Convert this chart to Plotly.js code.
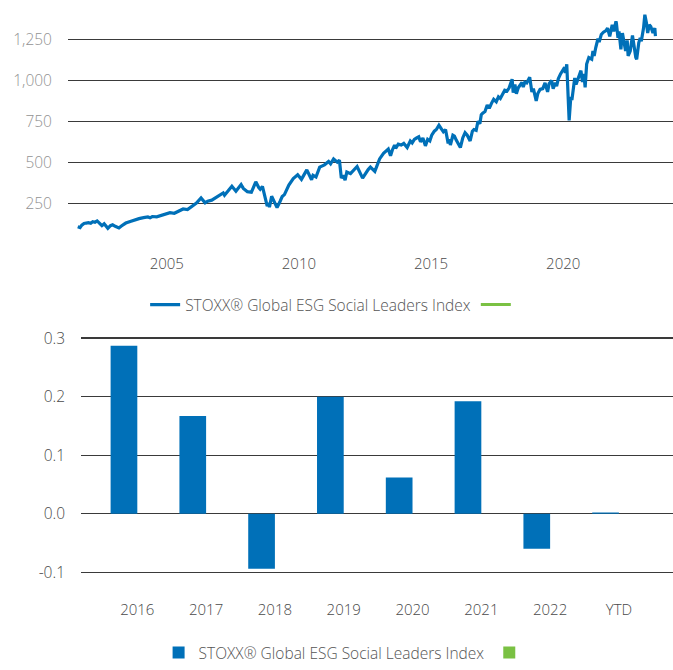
<!DOCTYPE html>
<html>
<head>
<meta charset="utf-8">
<script src="https://cdn.plot.ly/plotly-3.0.1.min.js"></script>
<style>
html,body{margin:0;padding:0;background:#fff;}
#chart{width:673px;height:670px;}
</style>
</head>
<body>
<div id="chart"></div>
<script>
// ---- Index level series ----
const lineDates = [
"2001-08-20","2001-09-21","2001-10-15","2001-11-15","2001-12-15","2002-01-15","2002-02-15","2002-03-15","2002-04-15","2002-05-15",
"2002-06-15","2002-07-20","2002-08-20","2002-09-15","2002-10-10","2002-11-15","2002-12-15","2003-01-20","2003-03-12","2003-04-15",
"2003-05-15","2003-06-15","2003-08-15","2003-10-15","2003-12-15","2004-02-15","2004-04-15","2004-05-15","2004-06-15","2004-08-15",
"2004-10-15","2004-12-15","2005-02-15","2005-04-15","2005-06-15","2005-08-15","2005-10-15","2005-12-15","2006-02-15","2006-04-20",
"2006-06-15","2006-07-20","2006-09-15","2006-11-15","2007-01-15","2007-02-20","2007-03-10","2007-05-20","2007-06-20","2007-08-15",
"2007-09-15","2007-10-25","2007-11-25","2008-01-20","2008-03-15","2008-05-15","2008-06-25","2008-07-15","2008-08-15","2008-09-20",
"2008-10-20","2008-11-10","2008-11-20","2008-12-20","2009-01-20","2009-03-05","2009-04-15","2009-05-15","2009-06-15","2009-07-15",
"2009-08-15","2009-10-15","2009-11-15","2009-12-15","2010-02-05","2010-04-20","2010-06-25","2010-07-15","2010-08-25","2010-10-15",
"2010-12-20","2011-02-15","2011-03-15","2011-04-25","2011-06-15","2011-07-15","2011-08-10","2011-09-05","2011-10-01","2011-10-25",
"2011-12-15","2012-02-15","2012-03-15","2012-05-30","2012-07-20","2012-08-15","2012-09-15","2012-11-15","2013-01-20","2013-03-15",
"2013-05-20","2013-06-20","2013-07-15","2013-08-15","2013-08-30","2013-10-05","2013-11-15","2013-12-20","2014-02-05","2014-03-20",
"2014-04-15","2014-05-15","2014-06-15","2014-07-15","2014-08-08","2014-09-10","2014-10-15","2014-11-15","2014-12-15","2015-01-10",
"2015-02-15","2015-03-15","2015-04-20","2015-05-20","2015-06-20","2015-07-20","2015-08-25","2015-09-10","2015-09-25","2015-10-30",
"2015-11-20","2015-12-15","2016-01-20","2016-02-10","2016-03-15","2016-04-15","2016-05-15","2016-06-24","2016-07-25","2016-08-15",
"2016-09-15","2016-10-10","2016-11-05","2016-11-25","2016-12-15","2017-01-15","2017-02-15","2017-03-15","2017-04-15","2017-05-15",
"2017-06-20","2017-07-20","2017-08-15","2017-09-15","2017-10-15","2017-11-15","2017-12-15","2018-01-25","2018-02-09","2018-03-05",
"2018-03-25","2018-04-20","2018-05-15","2018-06-10","2018-06-28","2018-07-20","2018-08-15","2018-09-25","2018-10-25","2018-11-15",
"2018-12-24","2019-01-15","2019-02-15","2019-03-25","2019-04-25","2019-05-30","2019-06-20","2019-07-25","2019-08-15","2019-09-15",
"2019-10-02","2019-10-25","2019-11-25","2019-12-20","2020-01-20","2020-01-31","2020-02-19","2020-03-23","2020-04-15","2020-04-30",
"2020-05-20","2020-06-08","2020-06-26","2020-07-20","2020-08-15","2020-09-02","2020-09-23","2020-10-12","2020-10-30","2020-11-20",
"2020-12-20","2021-01-29","2021-02-15","2021-03-04","2021-03-25","2021-04-25","2021-05-12","2021-06-10","2021-07-10","2021-08-15",
"2021-09-05","2021-10-05","2021-11-08","2021-11-30","2021-12-30","2022-01-05","2022-01-27","2022-02-10","2022-03-08","2022-03-29",
"2022-05-12","2022-06-03","2022-06-16","2022-07-15","2022-08-15","2022-09-05","2022-09-30","2022-10-12","2022-11-10","2022-11-30",
"2022-12-15","2023-01-15","2023-02-02","2023-02-25","2023-03-13","2023-04-05","2023-04-25","2023-05-25","2023-06-20","2023-06-28"
];
const lineValues = [
105,100,115,125,128,130,127,136,133,141,
128,112,124,110,96,112,117,108,98,110,
118,128,138,148,155,161,165,160,168,166,
175,186,191,188,203,214,210,232,250,282,
252,262,268,285,300,312,298,340,353,323,
340,363,340,320,316,380,345,335,352,290,
232,250,225,292,265,222,260,290,302,330,
360,400,410,423,395,453,393,420,410,470,
484,505,490,520,500,512,403,420,390,440,
430,465,474,403,440,455,470,444,520,554,
580,540,575,605,585,610,605,615,590,630,
618,640,648,655,625,648,600,640,630,665,
690,700,726,705,686,700,615,640,605,665,
660,635,600,590,650,680,665,630,690,700,
695,750,735,790,800,810,850,830,860,885,
870,900,890,915,940,935,955,1008,925,975,
918,955,970,988,960,990,985,1019,930,950,
875,920,945,950,985,930,980,1000,950,985,
965,1010,1040,1060,1080,1045,1099,756,900,880,
935,1015,975,1005,1040,1060,990,1040,958,1100,
1140,1130,1180,1150,1200,1255,1235,1281,1295,1305,
1320,1270,1340,1300,1361,1350,1260,1300,1190,1290,
1180,1245,1150,1180,1275,1200,1140,1130,1230,1260,
1240,1320,1402,1350,1290,1340,1330,1290,1320,1271
];

// ---- Annual returns ----
const barCategories = ["2016","2017","2018","2019","2020","2021","2022","YTD"];
const barValues = [0.287, 0.167, -0.094, 0.200, 0.062, 0.192, -0.060, 0.002];
const barValues2 = [null, null, null, null, null, null, null, null];

// ---- Tick labels ----
const topXTickVals = ["2005-01-01","2010-01-01","2015-01-01","2020-01-01"];
const topXTickText = ["2005","2010","2015","2020"];
const topYTickVals = [250, 500, 750, 1000, 1250];
const botYTickVals = [-0.1, 0, 0.1, 0.2, 0.3];
const botYTickText = ["-0.1","0.0","0.1","0.2","0.3"];

const seriesName = "STOXX® Global ESG Social Leaders Index";
const blue = "#0070b8";
const green = "#7ac143";
const font = "Open Sans, Noto Sans, sans-serif";

const data = [
  {type:"scatter", mode:"lines", x: lineDates, y: lineValues, name: seriesName,
   line:{color: blue, width: 3.2}, xaxis:"x", yaxis:"y", legend:"legend"},
  {type:"scatter", mode:"lines", x:[null], y:[null], name:"",
   line:{color: green, width: 3}, xaxis:"x", yaxis:"y", legend:"legend"},
  {type:"bar", x: barCategories, y: barValues, name: seriesName,
   marker:{color: blue}, xaxis:"x2", yaxis:"y2", legend:"legend2"},
  {type:"bar", x: barCategories, y: barValues2, name:"",
   marker:{color: green}, xaxis:"x2", yaxis:"y2", legend:"legend2"}
];

const layout = {
  width:673, height:670,
  margin:{l:0, r:0, t:0, b:0},
  paper_bgcolor:"#fff", plot_bgcolor:"#fff",
  font:{family: font, size:15, color:"#4a4a4a", weight:300},
  showlegend:true,
  barmode:"group", bargap:0.224, bargroupgap:0,
  xaxis:{domain:[0.101, 1], type:"date", range:["2001-04-07","2024-02-26"],
    tickmode:"array", tickvals: topXTickVals, ticktext: topXTickText,
    showgrid:false, zeroline:false, showline:false, ticks:"",
    ticklabelstandoff:9, tickfont:{size:15, color:"#4a4a4a", weight:300}, anchor:"y"},
  yaxis:{domain:[0.632, 1], range:[0, 1492], tickmode:"array", tickvals: topYTickVals,
    tickformat:",d", showgrid:true, gridcolor:"#3a3a3a", gridwidth:1.2,
    zeroline:false, showline:false, ticks:"", ticklabelstandoff:15,
    tickfont:{size:15.5, color:"#929292", weight:300}, anchor:"x"},
  xaxis2:{domain:[0.1204, 1], type:"category", range:[-0.818, 7.786],
    showgrid:false, zeroline:false, showline:false, ticks:"",
    ticklabelstandoff:24, tickfont:{size:15, color:"#4a4a4a", weight:300}, anchor:"y2"},
  yaxis2:{domain:[0.1324, 0.4945], range:[-0.105, 0.305], tickmode:"array",
    tickvals: botYTickVals, ticktext: botYTickText, showgrid:true,
    gridcolor:"#3a3a3a", gridwidth:1.2, zeroline:false, showline:false, ticks:"",
    ticklabelstandoff:15, tickfont:{size:15.5, color:"#4a4a4a", weight:300}, anchor:"x2"},
  legend:{orientation:"h", x:0.495, xanchor:"center", y:0.540, yanchor:"middle",
    font:{size:15.5, color:"#555", weight:300}, bgcolor:"rgba(0,0,0,0)"},
  legend2:{orientation:"h", x:0.515, xanchor:"center", y:0.015, yanchor:"middle",
    font:{size:15.5, color:"#555", weight:300}, bgcolor:"rgba(0,0,0,0)"}
};

Plotly.newPlot("chart", data, layout, {displayModeBar:false, staticPlot:true});
</script>
</body>
</html>
